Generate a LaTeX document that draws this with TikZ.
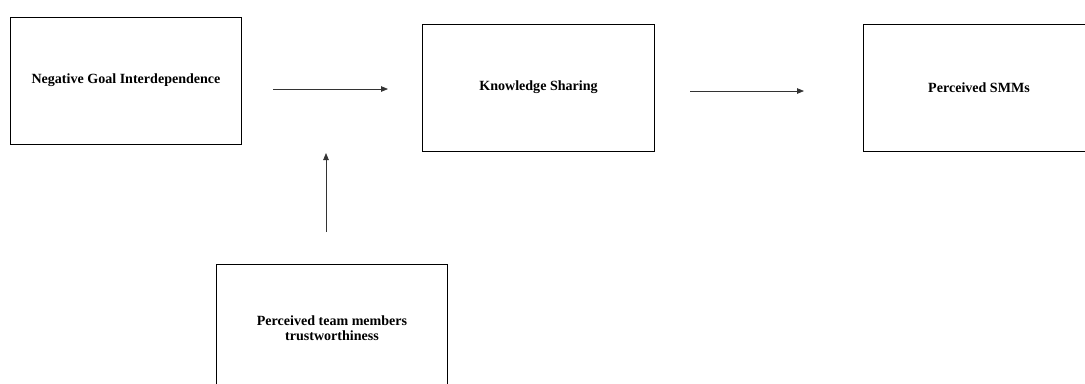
\documentclass[tikz,border=0pt]{standalone}
\usepackage{fontspec}
\setmainfont{Liberation Serif}
\usetikzlibrary{arrows.meta,positioning}
\tikzset{
  >={Triangle[length=1.4mm,width=1.1mm]},
  box/.style={draw=black,line width=0.55pt,minimum width=4.64cm,minimum height=2.54cm,
    align=center,font=\fontsize{8}{8.8}\selectfont\bfseries,inner sep=0pt},
  flow/.style={->,line width=0.45pt,draw=black!80},
}
\begin{document}
\begin{tikzpicture}[x=0.02cm,y=-0.02cm]
  \useasboundingbox (0,0) rectangle (1085,383);
  \clip (0,0) rectangle (1085,383);
  % boxes
  \node[box] (ngi) at (126,80.5) {Negative Goal Interdependence};
  \node[box] (ks) at (538.5,87.5) {Knowledge Sharing};
  \node[box] (smm) at (979,87.5) {Perceived SMMs};
  \node[box,minimum height=2.56cm] (trust) at (332,328) {Perceived team members\\trustworthiness};
  % free arrow ends
  \coordinate (a1s) at (273,89);
  \coordinate (a1e) at (388,89);
  \coordinate (a2s) at (690,91);
  \coordinate (a2e) at (804,91);
  \coordinate (a3s) at (326,232);
  \coordinate (a3e) at (326,153);
  \draw[flow] (a1s) -- (a1e);
  \draw[flow] (a2s) -- (a2e);
  \draw[flow] (a3s) -- (a3e);
\end{tikzpicture}
\end{document}
